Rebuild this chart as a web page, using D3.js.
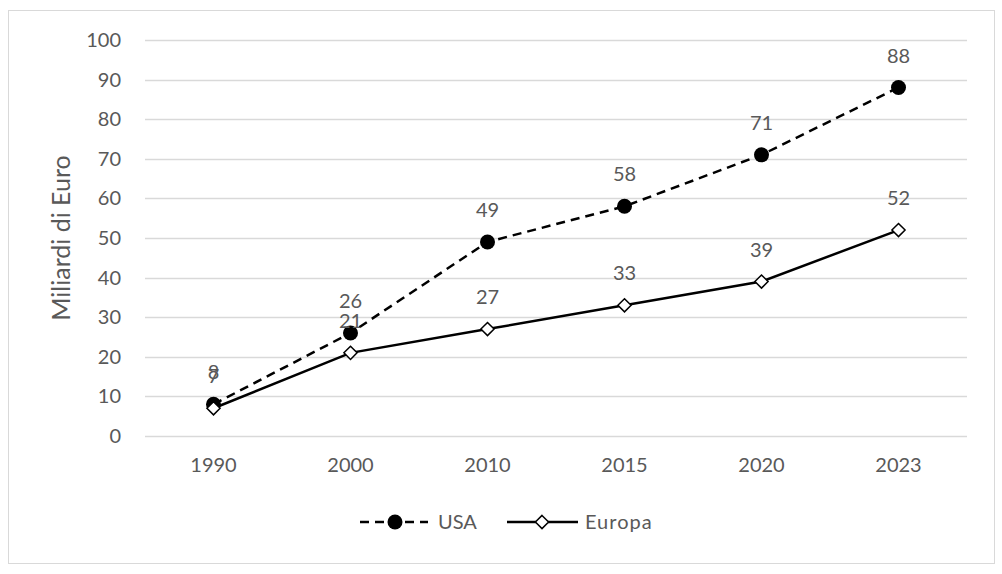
<!DOCTYPE html>
<html>
<head>
<meta charset="utf-8">
<script src="https://cdn.jsdelivr.net/npm/d3@7"></script>
<style>
  body { margin: 0; background: #fff; }
  text { font-family: Lato, "Open Sans", sans-serif; fill: #595959; }
</style>
</head>
<body>
<div id="chart"></div>
<script>
var years = ["1990", "2000", "2010", "2015", "2020", "2023"];
var usaValues = [8, 26, 49, 58, 71, 88];
var europaValues = [7, 21, 27, 33, 39, 52];
var yTicks = [0, 10, 20, 30, 40, 50, 60, 70, 80, 90, 100];

var W = 1002, H = 574;
var margin = {top: 40, right: 35, bottom: 138, left: 145}; // plot area 145..967, 40..436

var svg = d3.select("#chart").append("svg")
  .attr("width", W)
  .attr("height", H);

// outer chart border
svg.append("rect")
  .attr("x", 8.5).attr("y", 10.5)
  .attr("width", 986).attr("height", 553)
  .style("fill", "#fff")
  .style("stroke", "#d9d9d9")
  .style("stroke-width", 1);

var x = d3.scaleBand()
  .domain(years)
  .range([margin.left, W - margin.right]);

var y = d3.scaleLinear()
  .domain([0, 100])
  .range([H - margin.bottom, margin.top]);

// gridlines
svg.append("g").selectAll("line")
  .data(yTicks)
  .enter().append("line")
  .attr("x1", margin.left)
  .attr("x2", W - margin.right)
  .attr("y1", function(d){ return Math.round(y(d)) + 0.5; })
  .attr("y2", function(d){ return Math.round(y(d)) + 0.5; })
  .style("stroke", "#d9d9d9")
  .style("stroke-width", 1.5);

// y axis labels
var yAxis = d3.axisLeft(y).tickValues(yTicks).tickSize(0).tickPadding(24);
svg.append("g")
  .attr("transform", "translate(" + margin.left + ",0)")
  .call(yAxis)
  .call(function(g){ g.select(".domain").remove(); })
  .selectAll("text")
  .style("font-size", "20px")
  .style("fill", "#595959");

// x axis labels
var xAxis = d3.axisBottom(x).tickSize(0).tickPadding(22);
svg.append("g")
  .attr("transform", "translate(0," + (H - margin.bottom) + ")")
  .call(xAxis)
  .call(function(g){ g.select(".domain").remove(); })
  .selectAll("text")
  .style("font-size", "20px")
  .style("fill", "#595959");

// y axis title
svg.append("text")
  .attr("transform", "translate(70," + y(50) + ") rotate(-90)")
  .attr("text-anchor", "middle")
  .style("font-size", "25px")
  .text("Miliardi di Euro");

var cx = function(i){ return x(years[i]) + x.bandwidth() / 2; };

var line = d3.line()
  .x(function(d, i){ return cx(i); })
  .y(function(d){ return y(d); });

// USA dashed line
svg.append("path")
  .attr("d", line(usaValues))
  .style("fill", "none")
  .style("stroke", "#000")
  .style("stroke-width", 2.5)
  .style("stroke-dasharray", "9,6");

// Europa solid line
svg.append("path")
  .attr("d", line(europaValues))
  .style("fill", "none")
  .style("stroke", "#000")
  .style("stroke-width", 2.5);

// USA markers
svg.append("g").selectAll("circle")
  .data(usaValues)
  .enter().append("circle")
  .attr("cx", function(d, i){ return cx(i); })
  .attr("cy", function(d){ return y(d); })
  .attr("r", 7.5)
  .style("fill", "#000");

// Europa markers
var diamond = d3.symbol().type(d3.symbolDiamond2).size(110);
svg.append("g").selectAll("path")
  .data(europaValues)
  .enter().append("path")
  .attr("d", diamond)
  .attr("transform", function(d, i){ return "translate(" + cx(i) + "," + y(d) + ")"; })
  .style("fill", "#fff")
  .style("stroke", "#000")
  .style("stroke-width", 1.5);

// data labels
function labels(values){
  svg.append("g").selectAll("text")
    .data(values)
    .enter().append("text")
    .attr("x", function(d, i){ return cx(i); })
    .attr("y", function(d){ return y(d) - 25; })
    .attr("text-anchor", "middle")
    .style("font-size", "20px")
    .text(function(d){ return d; });
}
labels(usaValues);
labels(europaValues);

// legend
var legend = svg.append("g").attr("transform", "translate(0,522)");
legend.append("line")
  .attr("x1", 360).attr("x2", 428).attr("y1", 0).attr("y2", 0)
  .style("stroke", "#000").style("stroke-width", 2.5)
  .style("stroke-dasharray", "9,6");
legend.append("circle")
  .attr("cx", 395).attr("cy", 0).attr("r", 7.5)
  .style("fill", "#000");
legend.append("text")
  .attr("x", 438).attr("y", 0).attr("dy", "0.35em")
  .style("font-size", "20px")
  .text("USA");
legend.append("line")
  .attr("x1", 507).attr("x2", 578).attr("y1", 0).attr("y2", 0)
  .style("stroke", "#000").style("stroke-width", 2.5);
legend.append("path")
  .attr("d", diamond)
  .attr("transform", "translate(542,0)")
  .style("fill", "#fff")
  .style("stroke", "#000")
  .style("stroke-width", 1.5);
legend.append("text")
  .attr("x", 585).attr("y", 0).attr("dy", "0.35em")
  .style("font-size", "20px")
  .style("letter-spacing", "1px")
  .text("Europa");
</script>
</body>
</html>
